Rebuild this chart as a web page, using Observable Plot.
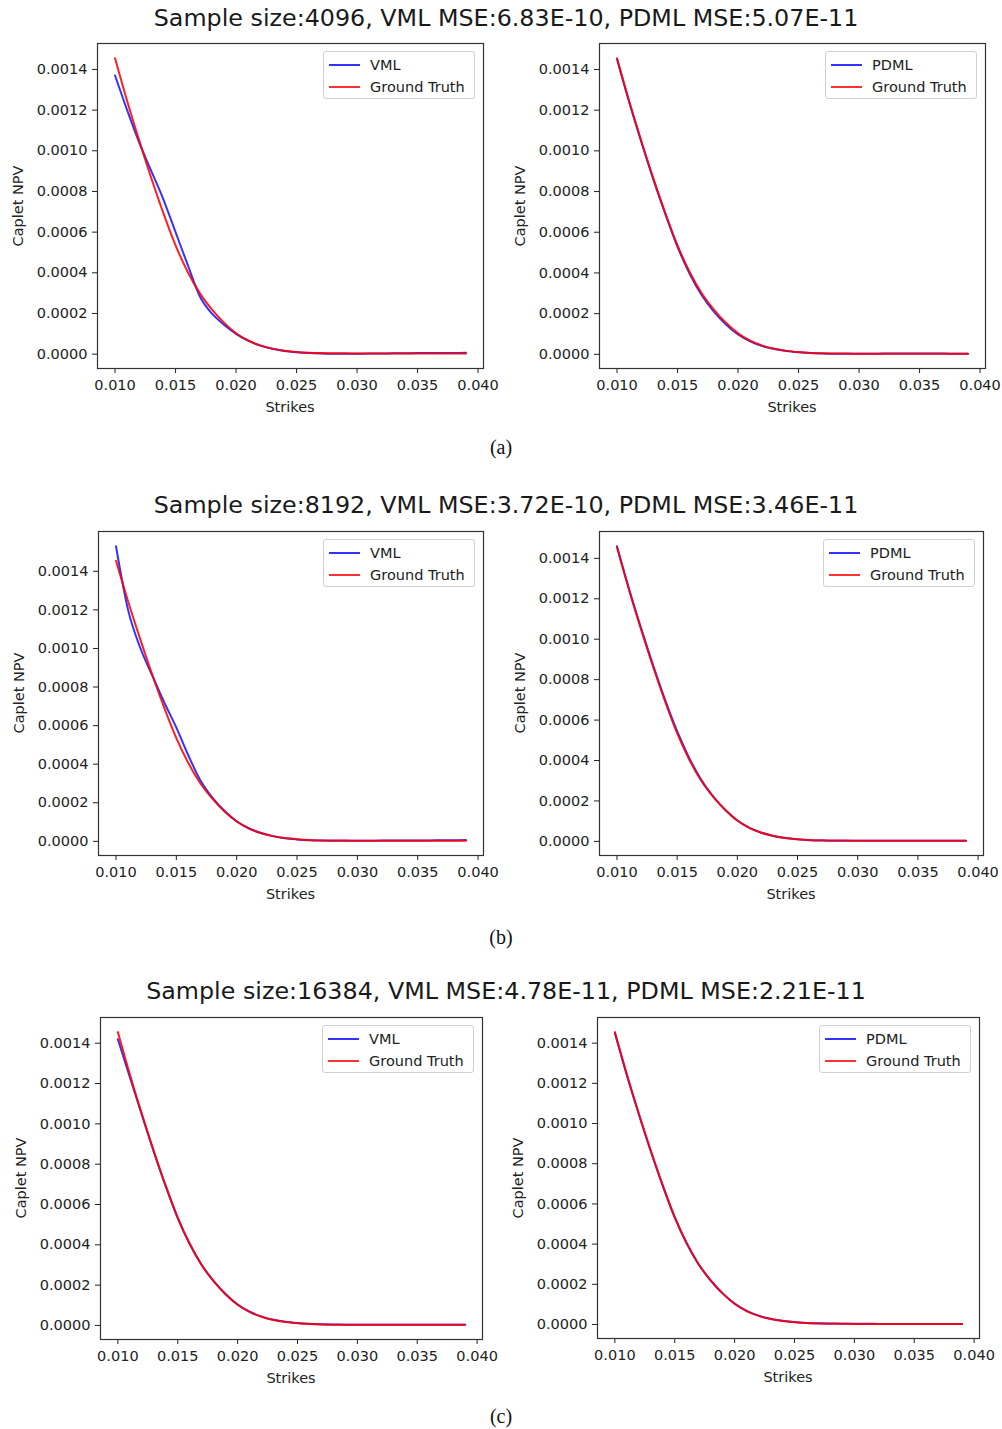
<!DOCTYPE html>
<html>
<head>
<meta charset="utf-8">
<script src="https://cdn.jsdelivr.net/npm/d3@7"></script>
<script src="https://cdn.jsdelivr.net/npm/@observablehq/plot@0.6"></script>
<style>
  body { margin: 0; background: #fff; }
  #page { position: relative; width: 1002px; height: 1429px; background: #fff; overflow: hidden; font-family: "DejaVu Sans", sans-serif; color: #222; }
  .txt { position: absolute; white-space: nowrap; line-height: 1; transform: translate(-50%, -50%); }
  .title { font-size: 23.8px; color: #1a1a1a; }
  .cap { font-family: "Liberation Serif", serif; font-size: 20px; color: #111; }
  .axlab { font-size: 14.5px; color: #222; }
  .ylab { transform: translate(-50%, -50%) rotate(-90deg); }
  .legend { position: absolute; width: 152px; height: 48px; background: #fff; border: 1px solid #d0d0d0; border-radius: 3px; box-sizing: border-box; }
  .legend .sw { position: absolute; left: 5px; width: 31px; height: 2px; }
  .legend .lt { position: absolute; left: 46px; font-size: 14.5px; line-height: 1; transform: translateY(-50%); color: #222; white-space: nowrap; }
</style>
</head>
<body>
<div id="page"></div>
<script>
// ---------- data ----------
const strikes = [0.010, 0.011, 0.012, 0.013, 0.014, 0.015, 0.016, 0.017, 0.018, 0.019,
                 0.020, 0.021, 0.022, 0.023, 0.024, 0.025, 0.026, 0.027, 0.028, 0.029,
                 0.030, 0.031, 0.032, 0.033, 0.034, 0.035, 0.036, 0.037, 0.038, 0.039];

const groundTruth = [0.001455, 0.001245, 0.001050, 0.000865, 0.000692, 0.000535, 0.000405, 0.000300, 0.000220, 0.000155,
                     0.000103, 0.000067, 0.000043, 0.000027, 0.000017, 0.000011, 0.000007, 0.000005, 0.000004, 0.000004,
                     0.000003, 0.000003, 0.000003, 0.000003, 0.000003, 0.000003, 0.000003, 0.000003, 0.000003, 0.000003];

const vml4096 = [0.001370, 0.001200, 0.001040, 0.000900, 0.000760, 0.000600, 0.000440, 0.000285, 0.000200, 0.000145,
                 0.000100, 0.000066, 0.000042, 0.000026, 0.000015, 0.000009, 0.000005, 0.000003, 0.000002, 0.000002,
                 0.000002, 0.000003, 0.000003, 0.000004, 0.000004, 0.000005, 0.000005, 0.000006, 0.000006, 0.000007];
const pdml4096 = [0.001450, 0.001240, 0.001045, 0.000860, 0.000688, 0.000528, 0.000396, 0.000290, 0.000210, 0.000147,
                  0.000098, 0.000064, 0.000041, 0.000026, 0.000016, 0.000010, 0.000006, 0.000004, 0.000003, 0.000003,
                  0.000003, 0.000003, 0.000004, 0.000004, 0.000004, 0.000004, 0.000004, 0.000004, 0.000003, 0.000003];

const vml8192 = [0.001530, 0.001200, 0.001005, 0.000860, 0.000720, 0.000590, 0.000445, 0.000315, 0.000225, 0.000157,
                 0.000104, 0.000068, 0.000043, 0.000027, 0.000016, 0.000010, 0.000006, 0.000004, 0.000003, 0.000003,
                 0.000003, 0.000003, 0.000004, 0.000004, 0.000004, 0.000005, 0.000005, 0.000006, 0.000006, 0.000007];
const pdml8192 = [0.001460, 0.001250, 0.001055, 0.000872, 0.000700, 0.000545, 0.000413, 0.000305, 0.000222, 0.000156,
                  0.000103, 0.000067, 0.000043, 0.000027, 0.000017, 0.000010, 0.000006, 0.000004, 0.000003, 0.000003,
                  0.000003, 0.000003, 0.000003, 0.000003, 0.000003, 0.000003, 0.000003, 0.000003, 0.000003, 0.000003];

const vml16384 = [0.001420, 0.001232, 0.001045, 0.000862, 0.000690, 0.000533, 0.000404, 0.000300, 0.000220, 0.000155,
                  0.000104, 0.000068, 0.000044, 0.000028, 0.000018, 0.000012, 0.000008, 0.000006, 0.000005, 0.000004,
                  0.000004, 0.000004, 0.000004, 0.000004, 0.000004, 0.000004, 0.000004, 0.000004, 0.000004, 0.000004];
const pdml16384 = [0.001450, 0.001240, 0.001046, 0.000862, 0.000690, 0.000532, 0.000403, 0.000299, 0.000219, 0.000155,
                   0.000104, 0.000068, 0.000044, 0.000029, 0.000019, 0.000012, 0.000008, 0.000006, 0.000005, 0.000004,
                   0.000004, 0.000004, 0.000003, 0.000003, 0.000003, 0.000003, 0.000003, 0.000003, 0.000003, 0.000003];

const titles = [
  "Sample size:4096, VML MSE:6.83E-10, PDML MSE:5.07E-11",
  "Sample size:8192, VML MSE:3.72E-10, PDML MSE:3.46E-11",
  "Sample size:16384, VML MSE:4.78E-11, PDML MSE:2.21E-11"
];
const captions = ["(a)", "(b)", "(c)"];
const modelNames = ["VML", "PDML"];
const truthName = "Ground Truth";
const xTicks = [0.010, 0.015, 0.020, 0.025, 0.030, 0.035, 0.040];
const yTicks = [0.0000, 0.0002, 0.0004, 0.0006, 0.0008, 0.0010, 0.0012, 0.0014];
const xLabel = "Strikes";
const yLabel = "Caplet NPV";

// ---------- layout ----------
const rows = [
  { titleY: 19,  capY: 447,  series: [vml4096, pdml4096],
    frames: [{x: 97, y: 43, w: 386, h: 325}, {x: 599, y: 43, w: 386, h: 325}] },
  { titleY: 506, capY: 937,  series: [vml8192, pdml8192],
    frames: [{x: 98, y: 531, w: 385, h: 324}, {x: 599, y: 531, w: 384, h: 324}] },
  { titleY: 992, capY: 1416, series: [vml16384, pdml16384],
    frames: [{x: 100, y: 1017, w: 382, h: 322}, {x: 597, y: 1017, w: 382, h: 321}] }
];

const page = document.getElementById("page");
function addText(cls, text, cx, cy) {
  const d = document.createElement("div");
  d.className = "txt " + cls;
  d.textContent = text;
  d.style.left = cx + "px";
  d.style.top = cy + "px";
  page.appendChild(d);
  return d;
}

function makePanel(model, name, f) {
  const data = strikes.map((s, i) => ({strike: s, model: model[i], truth: groundTruth[i]}));
  const all = model.concat(groundTruth);
  const lo = d3.min(all), hi = d3.max(all), pad = (hi - lo) * 0.05;
  const xlo = d3.min(strikes), xhi = d3.max(strikes), xpad = (xhi - xlo) * 0.05;
  const svgLeft = f.x < 500 ? 0 : 500;
  const svgW = 502, mt = 10, mb = 50;
  const plot = Plot.plot({
    width: svgW,
    height: f.h + mt + mb,
    marginLeft: f.x - svgLeft,
    marginRight: svgW - (f.x + f.w - svgLeft),
    marginTop: mt,
    marginBottom: mb,
    x: {domain: [xlo - xpad, xhi + xpad]},
    y: {domain: [lo - pad, hi + pad]},
    style: {fontFamily: "DejaVu Sans", fontSize: "14.5px", color: "#222", background: "transparent", overflow: "visible"},
    marks: [
      Plot.axisY({ticks: yTicks, tickFormat: d3.format(".4f"), tickSize: 5, tickPadding: 5, label: null}),
      Plot.axisX({ticks: xTicks, tickFormat: d3.format(".3f"), tickSize: 5, tickPadding: 6, label: null}),
      Plot.line(data, {x: "strike", y: "model", stroke: "#0000ff", strokeOpacity: 0.8, strokeWidth: 2, curve: "monotone-x"}),
      Plot.line(data, {x: "strike", y: "truth", stroke: "#ff0000", strokeOpacity: 0.88, strokeWidth: 2, curve: "monotone-x"}),
      Plot.frame({stroke: "#333", strokeWidth: 1.2})
    ]
  });
  plot.style.position = "absolute";
  plot.style.left = svgLeft + "px";
  plot.style.top = (f.y - mt) + "px";
  page.appendChild(plot);

  // axis labels
  addText("axlab", xLabel, f.x + f.w / 2, f.y + f.h + 39);
  addText("axlab ylab", yLabel, f.x - 79, f.y + f.h / 2);

  // legend
  const lg = document.createElement("div");
  lg.className = "legend";
  lg.style.left = (f.x + f.w - 8 - 152) + "px";
  lg.style.top = (f.y + 8) + "px";
  const entries = [[name, "rgba(0,0,255,0.8)", 13], [truthName, "rgba(255,0,0,0.8)", 35]];
  for (const [t, c, yy] of entries) {
    const sw = document.createElement("div");
    sw.className = "sw"; sw.style.background = c; sw.style.top = (yy - 1) + "px";
    const lt = document.createElement("div");
    lt.className = "lt"; lt.textContent = t; lt.style.top = yy + "px";
    lg.appendChild(sw); lg.appendChild(lt);
  }
  page.appendChild(lg);
}

rows.forEach((r, ri) => {
  addText("title", titles[ri], 506, r.titleY);
  addText("cap", captions[ri], 501, r.capY);
  r.frames.forEach((f, pi) => makePanel(r.series[pi], modelNames[pi], f));
});
</script>
</body>
</html>
